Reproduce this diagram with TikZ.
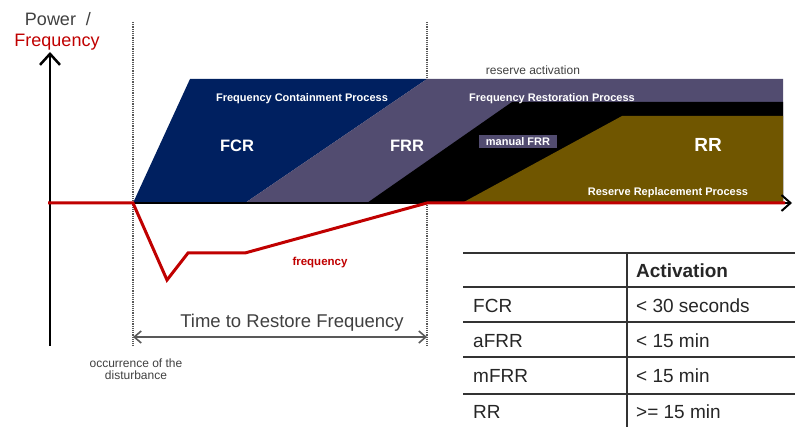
\documentclass[tikz,border=0pt]{standalone}
\usepackage{fontspec}
\setmainfont{Liberation Sans}
\usetikzlibrary{arrows.meta}
\definecolor{navy}{RGB}{0,32,96}
\definecolor{frrpurple}{RGB}{82,76,112}
\definecolor{rrbrown}{RGB}{112,86,0}
\definecolor{freqred}{RGB}{192,0,0}
\definecolor{txtgray}{RGB}{64,64,64}
\begin{document}
\begin{tikzpicture}[x=1pt,y=-1pt,
  dotline/.style={line width=2.6pt,dash pattern=on 1.2pt off 1pt,black!65},
  axisline/.style={line width=2pt,black},
  freqline/.style={line width=3pt,freqred,line join=miter},
  blocktxt/.style={text=white,inner sep=0pt,font=\bfseries\fontsize{11}{13}\selectfont},
  bigtxt/.style={text=white,inner sep=0pt,font=\bfseries\fontsize{16.5}{19}\selectfont},
  tabtxt/.style={anchor=west,inner sep=0pt,text=black!85,font=\fontsize{19}{22}\selectfont},
  tabline/.style={line width=1.3pt,black!80}]
\useasboundingbox (0,0) rectangle (795,427);
% dotted guide lines
\coordinate (d1t) at (133,22); \coordinate (d1b) at (133,346);
\coordinate (d2t) at (427,22); \coordinate (d2b) at (427,346);
\draw[dotline] (d1t) -- (d1b);
\draw[dotline] (d2t) -- (d2b);
% reserve blocks
\fill[navy] (133,203) -- (190,79) -- (427,79) -- (245,203) -- cycle;
\fill[frrpurple] (245,203) -- (427,79) -- (783,79) -- (783,203) -- cycle;
\fill[black] (367,203) -- (512,102) -- (783,102) -- (783,203) -- cycle;
\fill[rrbrown] (462,203) -- (622,116) -- (783,116) -- (783,203) -- cycle;
% axes
\coordinate (xs) at (48,203); \coordinate (xe) at (792,203);
\coordinate (ys) at (50,346); \coordinate (ye) at (50,52);
\draw[axisline,-{Straight Barb[length=9pt,width=16pt,line width=2pt]}] (xs) -- (xe);
\draw[line width=2.5pt,-{Straight Barb[length=11pt,width=20pt,line width=2.5pt]}] (ys) -- (ye);
% frequency curve
\draw[freqline] (48,203) -- (133,203) -- (167,280) -- (188,253) -- (245,253) -- (427,203) -- (785,203);
% axis label
\node[inner sep=0pt,text=txtgray,font=\fontsize{18}{20}\selectfont] (power) at (58,19) {Power\ \ /};
\node[inner sep=0pt,text=freqred,font=\fontsize{18}{20}\selectfont] (freq) at (57,42) {Frequency};
% block texts
\node[inner sep=0pt,text=txtgray,font=\fontsize{12}{14}\selectfont] (resact) at (533,70) {reserve activation};
\node[blocktxt] (fcp) at (302,99) {Frequency Containment Process};
\node[blocktxt] (frp) at (552,99) {Frequency Restoration Process};
\node[blocktxt] (rrp) at (668,193) {Reserve Replacement Process};
\node[bigtxt] (fcr) at (237,146) {FCR};
\node[bigtxt] (frr) at (407,146) {FRR};
\node[text=white,inner sep=0pt,font=\bfseries\fontsize{19}{22}\selectfont] (rr) at (708,145) {RR};
\node[fill=frrpurple,text=white,inner sep=0pt,minimum width=78pt,minimum height=13pt,font=\bfseries\fontsize{11}{13}\selectfont] (mfrr) at (518,141.5) {manual FRR};
% frequency label
\node[inner sep=0pt,text=freqred,font=\bfseries\fontsize{11.5}{13}\selectfont] (flab) at (320,263) {frequency};
% time to restore
\coordinate (ta) at (133,337); \coordinate (tb) at (427,337);
\draw[line width=1.6pt,black!65,{Straight Barb[length=7pt,width=12pt,line width=1.6pt]}-{Straight Barb[length=7pt,width=12pt,line width=1.6pt]}] (ta) -- (tb);
\node[inner sep=0pt,text=txtgray,font=\fontsize{18.5}{21}\selectfont] (ttrf) at (292,323) {Time to Restore Frequency};
\node[inner sep=0pt,text=txtgray,align=center,font=\fontsize{12}{12.5}\selectfont] (occ) at (136,369) {occurrence of the\\ disturbance};
% table
\draw[tabline] (463,253) -- (795,253);
\draw[tabline] (463,287) -- (795,287);
\draw[tabline] (463,322) -- (795,322);
\draw[tabline] (463,357) -- (795,357);
\draw[tabline] (463,394) -- (795,394);
\draw[tabline] (627,253) -- (627,427);
\node[tabtxt,font=\bfseries\fontsize{19}{22}\selectfont] (hact) at (636,271) {Activation};
\node[tabtxt] (r1a) at (473,306) {FCR};
\node[tabtxt] (r1b) at (636,306) {< 30 seconds};
\node[tabtxt] (r2a) at (473,341) {aFRR};
\node[tabtxt] (r2b) at (636,341) {< 15 min};
\node[tabtxt] (r3a) at (473,376) {mFRR};
\node[tabtxt] (r3b) at (636,376) {< 15 min};
\node[tabtxt] (r4a) at (473,412) {RR};
\node[tabtxt] (r4b) at (636,412) {>= 15 min};
\end{tikzpicture}
\end{document}
